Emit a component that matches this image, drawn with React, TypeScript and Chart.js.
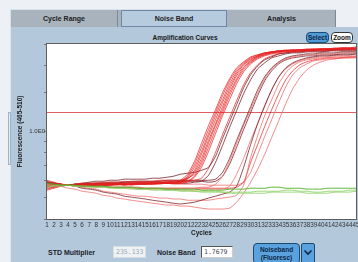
import React, { useEffect, useRef } from 'react';
import { Chart, registerables } from 'chart.js';

Chart.register(...registerables);

const FONT = '"Liberation Sans", Arial, sans-serif';

const cycles = ['1','2','3','4','5','6','7','8','9','10','11','12','13','14','15','16','17','18','19','20','21','22','23','24','25','26','27','28','29','30','31','32','33','34','35','36','37','38','39','40','41','42','43','44','45'];

const noiseBandLevel = 1.225;

// red (positive) samples
const r01 = [.600,.588,.576,.570,.576,.576,.570,.576,.576,.582,.576,.576,.582,.582,.582,.588,.582,.588,.582,.600,.639,.731,.883,1.065,1.258,1.501,1.737,1.948,2.074,2.185,2.231,2.278,2.301,2.325,2.350,2.350,2.350,2.375,2.375,2.375,2.375,2.399,2.399,2.399,2.424];
const r02 = [.547,.558,.570,.570,.570,.576,.576,.570,.576,.576,.582,.576,.576,.582,.582,.582,.588,.588,.588,.594,.626,.709,.847,1.021,1.219,1.455,1.701,1.908,2.052,2.162,2.231,2.278,2.301,2.325,2.325,2.350,2.350,2.350,2.375,2.375,2.375,2.375,2.399,2.399,2.399];
const r03 = [.582,.576,.570,.570,.564,.570,.570,.576,.570,.576,.576,.570,.576,.576,.582,.576,.582,.582,.582,.588,.619,.687,.812,.979,1.181,1.396,1.649,1.868,2.031,2.140,2.208,2.278,2.301,2.325,2.325,2.350,2.350,2.350,2.350,2.375,2.375,2.375,2.375,2.375,2.399];
const r04 = [.564,.570,.570,.570,.576,.576,.576,.582,.576,.576,.576,.582,.576,.582,.582,.582,.582,.588,.588,.588,.613,.666,.787,.949,1.133,1.353,1.598,1.830,2.010,2.117,2.208,2.254,2.301,2.325,2.325,2.325,2.350,2.350,2.350,2.350,2.375,2.375,2.375,2.375,2.375];
const r05 = [.541,.552,.564,.570,.570,.570,.564,.570,.570,.570,.576,.570,.576,.576,.576,.576,.582,.582,.582,.588,.607,.652,.755,.911,1.087,1.298,1.549,1.792,1.968,2.096,2.185,2.254,2.278,2.301,2.325,2.325,2.325,2.350,2.350,2.350,2.350,2.350,2.375,2.375,2.375];
const r06 = [.588,.582,.576,.570,.576,.582,.582,.582,.588,.588,.588,.594,.588,.594,.594,.594,.600,.600,.600,.600,.613,.639,.731,.883,1.065,1.258,1.501,1.737,1.948,2.074,2.185,2.231,2.278,2.301,2.325,2.325,2.350,2.350,2.350,2.375,2.375,2.375,2.399,2.399,2.399];
const r07 = [.570,.570,.570,.570,.570,.570,.576,.576,.570,.576,.576,.576,.576,.582,.576,.582,.582,.582,.582,.582,.594,.626,.709,.847,1.021,1.219,1.455,1.701,1.908,2.052,2.162,2.231,2.278,2.301,2.325,2.325,2.325,2.350,2.350,2.350,2.350,2.375,2.375,2.375,2.375];
const r08 = [.552,.558,.564,.570,.570,.564,.564,.570,.570,.570,.570,.576,.570,.576,.576,.576,.576,.582,.582,.582,.588,.619,.687,.812,.979,1.181,1.396,1.649,1.868,2.031,2.140,2.208,2.254,2.278,2.301,2.301,2.325,2.325,2.325,2.350,2.350,2.350,2.350,2.375,2.375];
const r09 = [.594,.582,.576,.570,.576,.582,.588,.594,.594,.600,.600,.607,.607,.607,.607,.613,.613,.619,.626,.639,.646,.652,.666,.687,.771,.930,1.110,1.325,1.582,1.811,1.989,2.117,2.185,2.254,2.278,2.301,2.301,2.325,2.325,2.325,2.325,2.350,2.350,2.350,2.350];
const r10 = [.576,.576,.570,.570,.570,.576,.576,.576,.582,.582,.582,.582,.588,.588,.588,.588,.594,.594,.594,.594,.594,.600,.613,.680,.804,.969,1.157,1.381,1.632,1.849,2.010,2.140,2.208,2.254,2.278,2.301,2.301,2.325,2.325,2.325,2.325,2.350,2.350,2.350,2.350];
const r11 = [.558,.564,.570,.570,.570,.570,.570,.570,.570,.570,.576,.576,.576,.576,.576,.582,.582,.582,.582,.582,.582,.588,.594,.632,.724,.864,1.043,1.245,1.486,1.719,1.928,2.052,2.162,2.208,2.254,2.278,2.278,2.301,2.301,2.301,2.325,2.325,2.325,2.325,2.325];
const r12 = [.582,.576,.570,.570,.576,.576,.582,.582,.582,.588,.588,.588,.594,.594,.594,.594,.594,.600,.600,.600,.600,.600,.600,.600,.607,.652,.755,.911,1.087,1.298,1.549,1.773,1.948,2.074,2.162,2.208,2.231,2.254,2.254,2.278,2.278,2.278,2.301,2.301,2.301];
const r13 = [.570,.570,.570,.570,.570,.564,.564,.564,.558,.558,.558,.558,.558,.552,.552,.552,.552,.552,.552,.552,.552,.552,.558,.558,.576,.626,.731,.883,1.065,1.258,1.501,1.737,1.928,2.052,2.140,2.185,2.208,2.231,2.231,2.254,2.254,2.254,2.278,2.278,2.278];
const r14 = [.588,.582,.576,.570,.570,.576,.576,.582,.582,.582,.582,.588,.588,.588,.588,.588,.588,.588,.594,.594,.594,.594,.594,.588,.594,.626,.709,.847,1.021,1.219,1.455,1.701,1.888,2.031,2.117,2.162,2.185,2.208,2.208,2.231,2.231,2.231,2.254,2.254,2.254];
const r15 = [.582,.576,.570,.570,.564,.552,.547,.541,.530,.524,.519,.508,.503,.498,.493,.487,.482,.477,.472,.468,.472,.477,.487,.498,.508,.519,.530,.564,.687,.873,1.087,1.311,1.549,1.773,1.948,2.052,2.117,2.162,2.185,2.208,2.208,2.231,2.231,2.231,2.254];
const r16 = [.576,.570,.570,.570,.570,.564,.564,.558,.558,.558,.552,.552,.552,.547,.547,.547,.547,.547,.547,.541,.541,.541,.547,.547,.547,.547,.564,.639,.755,.911,1.087,1.298,1.549,1.773,1.928,2.031,2.096,2.140,2.162,2.185,2.185,2.208,2.208,2.208,2.208];
const r17 = [.570,.570,.570,.570,.564,.558,.552,.547,.535,.530,.524,.519,.513,.508,.508,.503,.498,.498,.493,.493,.487,.487,.487,.487,.493,.498,.503,.513,.570,.763,.959,1.181,1.396,1.649,1.849,1.989,2.074,2.117,2.140,2.162,2.162,2.185,2.185,2.185,2.185];
const r18 = [.564,.564,.570,.570,.570,.570,.564,.564,.564,.558,.558,.558,.558,.558,.552,.552,.552,.552,.552,.552,.552,.552,.552,.552,.552,.552,.552,.558,.588,.724,.873,1.054,1.258,1.486,1.719,1.888,2.010,2.074,2.117,2.140,2.162,2.162,2.162,2.185,2.185];
const r19 = [.588,.582,.576,.570,.570,.576,.576,.576,.576,.576,.576,.582,.582,.582,.582,.582,.582,.582,.576,.576,.576,.576,.576,.570,.570,.570,.570,.570,.588,.652,.787,.949,1.133,1.353,1.598,1.811,1.948,2.031,2.096,2.117,2.140,2.140,2.162,2.162,2.162];
const r20 = [.582,.570,.564,.552,.547,.535,.530,.524,.513,.508,.498,.493,.487,.482,.477,.472,.468,.463,.463,.458,.458,.453,.448,.444,.444,.444,.448,.477,.524,.588,.673,.787,.940,1.121,1.339,1.565,1.755,1.908,2.010,2.074,2.117,2.140,2.162,2.162,2.185];

// green (negative) samples
const g01 = [.582,.576,.570,.570,.570,.564,.564,.564,.564,.558,.558,.558,.558,.552,.552,.552,.552,.547,.547,.547,.547,.547,.541,.541,.541,.541,.547,.547,.547,.552,.552,.552,.558,.558,.552,.552,.552,.547,.547,.547,.552,.552,.552,.552,.552];
const g02 = [.570,.570,.570,.570,.564,.564,.564,.558,.558,.558,.552,.552,.552,.547,.547,.547,.547,.541,.541,.541,.541,.535,.535,.535,.535,.530,.530,.530,.530,.530,.535,.535,.535,.535,.541,.541,.535,.535,.530,.530,.535,.535,.535,.541,.541];
const g03 = [.558,.564,.564,.570,.564,.564,.558,.558,.558,.552,.552,.552,.547,.547,.547,.541,.541,.541,.541,.535,.535,.535,.530,.530,.530,.530,.524,.524,.524,.524,.524,.524,.530,.530,.530,.530,.530,.524,.524,.524,.524,.530,.530,.530,.535];

const RED = 'rgba(232,30,30,0.72)';
const DARK = 'rgba(115,28,34,0.78)';
const PINK = 'rgba(240,105,105,0.78)';
const GREEN = 'rgba(80,178,40,0.95)';
const LGREEN = 'rgba(150,212,110,0.95)';

const greenSeries = [g01, g02, g03];
const greenColors = [GREEN, LGREEN, LGREEN];
const redSeries = [r01, r02, r03, r04, r05, r06, r07, r08, r09, r10, r11, r12, r13, r14, r15, r16, r17, r18, r19, r20];
const redColors = [RED, RED, RED, RED, RED, RED, RED, RED, DARK, RED, DARK, DARK, PINK, DARK, DARK, PINK, PINK, RED, PINK, PINK];

const plotFrame = {
  id: 'plotFrame',
  beforeDatasetsDraw(chart: any) {
    const { ctx, chartArea: a, scales } = chart;
    ctx.save();
    ctx.fillStyle = '#ffffff';
    ctx.fillRect(a.left, a.top, a.right - a.left, a.bottom - a.top);
    const y = Math.round(scales.y.getPixelForValue(noiseBandLevel)) + 0.5;
    ctx.strokeStyle = 'rgba(222,86,86,0.95)';
    ctx.lineWidth = 1;
    ctx.beginPath();
    ctx.moveTo(a.left, y);
    ctx.lineTo(a.right, y);
    ctx.stroke();
    ctx.restore();
  },
  afterDraw(chart: any) {
    const { ctx, chartArea: a } = chart;
    ctx.save();
    ctx.strokeStyle = '#5e5e5e';
    ctx.lineWidth = 1;
    ctx.strokeRect(Math.round(a.left) - 0.5, Math.round(a.top) - 0.5, Math.round(a.right - a.left) + 1, Math.round(a.bottom - a.top) + 1);
    ctx.restore();
  },
};

function AmpChart() {
  const ref = useRef<HTMLCanvasElement>(null);
  useEffect(() => {
    const datasets: any[] = [];
    greenSeries.forEach((s, i) => datasets.push({ data: s, borderColor: greenColors[i], borderWidth: 1, pointRadius: 0, tension: 0.2 }));
    redSeries.forEach((s, i) => datasets.push({ data: s, borderColor: redColors[i], borderWidth: 1, pointRadius: 0, tension: 0.2 }));
    const chart = new Chart(ref.current as HTMLCanvasElement, {
      type: 'line',
      data: { labels: cycles, datasets },
      options: {
        animation: false,
        responsive: false,
        devicePixelRatio: 1,
        events: [],
        layout: { padding: { top: 4, right: 2, left: 0, bottom: 0 } },
        plugins: { legend: { display: false }, tooltip: { enabled: false }, title: { display: false } },
        scales: {
          x: {
            type: 'category',
            offset: false,
            grid: { display: false, drawTicks: false, tickLength: 0 },
            border: { display: false },
            ticks: { autoSkip: false, maxRotation: 0, minRotation: 0, padding: 2, color: '#333', font: { family: FONT, size: 6.3 } },
            title: { display: true, text: 'Cycles', color: '#1a1a1a', padding: { top: 0, bottom: 3 }, font: { family: FONT, size: 6.5, weight: 'bold' } },
            afterFit: (s: any) => { s.height = 21; s.paddingLeft = 0; s.paddingRight = 0; },
          },
          y: {
            type: 'logarithmic',
            min: 0.4,
            max: 2.5,
            grid: { display: true, drawOnChartArea: false, drawTicks: true, tickLength: 3, color: '#777' },
            border: { display: false },
            ticks: {
              padding: -1,
              color: '#333',
              font: { family: FONT, size: 6 },
              callback: (v: any) => (Math.abs(Number(v) - 1) < 1e-9 ? '1.0E0' : ''),
            },
            title: { display: true, text: 'Fluorescence (465-510)', color: '#1a1a1a', padding: { top: 6, bottom: 0 }, font: { family: FONT, size: 6.5, weight: 'bold' } },
            afterFit: (s: any) => { s.width = 37; s.paddingTop = 0; s.paddingBottom = 0; },
          },
        },
      } as any,
      plugins: [plotFrame],
    });
    return () => chart.destroy();
  }, []);
  return <canvas ref={ref} width={348} height={200} style={{ position: 'absolute', left: 10, top: 40, width: 348, height: 200 }} />;
}

const abs = (l: number, t: number, w: number, h: number): React.CSSProperties => ({ position: 'absolute', left: l, top: t, width: w, height: h, boxSizing: 'border-box' });

const centered: React.CSSProperties = { display: 'flex', alignItems: 'center', justifyContent: 'center' };

export default function App() {
  return (
    <div style={{ position: 'fixed', left: 0, top: 0, width: 358, height: 262, overflow: 'hidden', background: '#edf1f5', fontFamily: FONT }}>
      {/* tab bar */}
      <div style={{ ...abs(10, 9, 326, 18), background: '#a9b3be', borderTop: '1px solid #d9e1e8', borderLeft: '1px solid #d9e1e8' }} />
      <div style={{ ...abs(11, 10, 107, 17), ...centered, background: '#a9b3be', borderRight: '1px solid #7d8894', fontSize: 7, fontWeight: 'bold', color: '#222' }}>Cycle Range</div>
      <div style={{ ...abs(121, 10, 106, 17), ...centered, background: '#b7cbde', border: '1px solid #6d88a4', fontSize: 7, fontWeight: 'bold', color: '#222' }}>Noise Band</div>
      <div style={{ ...abs(228, 10, 108, 17), ...centered, background: '#a9b3be', borderRight: '1px solid #7d8894', fontSize: 7, fontWeight: 'bold', color: '#222' }}>Analysis</div>
      {/* panel */}
      <div style={{ ...abs(10, 27, 348, 235), background: '#b4c8dc', borderLeft: '1px solid #dbe5ef' }} />
      <div style={{ ...abs(8, 112, 3, 53), background: '#e4ecf3', border: '1px solid #9fb3c6' }} />
      <div style={{ ...abs(120, 31, 130, 12), ...centered, fontSize: 6.5, fontWeight: 'bold', color: '#1a1a1a' }}>Amplification Curves</div>
      <div style={{ ...abs(306, 32, 23, 11), ...centered, background: '#4f9bd8', border: '1px solid #1d4c78', borderRadius: 4, fontSize: 6.5, fontWeight: 'bold', color: '#0d2540' }}>Select</div>
      <div style={{ ...abs(331, 32, 22, 11), ...centered, background: '#ffffff', border: '1px solid #333', borderRadius: 4, fontSize: 6.5, fontWeight: 'bold', color: '#111' }}>Zoom</div>
      <AmpChart />
      {/* bottom controls */}
      <div style={{ ...abs(48, 246, 60, 12), display: 'flex', alignItems: 'center', fontSize: 7, fontWeight: 'bold', color: '#1c1c2a', whiteSpace: 'nowrap' }}>STD Multiplier</div>
      <div style={{ ...abs(113, 246, 33, 12), display: 'flex', alignItems: 'center', paddingLeft: 2, background: '#eef2f5', border: '1px solid #d6dde3', fontSize: 6.5, fontFamily: '"DejaVu Sans Mono", monospace', color: '#9aa4ad' }}>235.133</div>
      <div style={{ ...abs(157, 246, 42, 12), display: 'flex', alignItems: 'center', fontSize: 7, fontWeight: 'bold', color: '#1c1c2a', whiteSpace: 'nowrap' }}>Noise Band</div>
      <div style={{ ...abs(201, 246, 32, 12), display: 'flex', alignItems: 'center', paddingLeft: 2, background: '#ffffff', borderTop: '1px solid #555', borderLeft: '1px solid #555', borderRight: '1px solid #ccc', borderBottom: '1px solid #ccc', fontSize: 6.5, fontFamily: '"DejaVu Sans Mono", monospace', color: '#445' }}>1.7679</div>
      <div style={{ ...abs(253, 243, 47, 21), ...centered, flexDirection: 'column', background: '#5aa2dd', border: '1px solid #1d4a73', borderRadius: 4, fontSize: 6.5, fontWeight: 'bold', color: '#0d2748', lineHeight: '8px' }}>
        <div>Noiseband</div>
        <div>(Fluoresc)</div>
      </div>
      <div style={{ ...abs(301, 243, 14, 21), background: '#5aa2dd', border: '1px solid #1d4a73', borderRadius: 2 }}>
        <svg width={12} height={19} style={{ position: 'absolute', left: 0, top: 0 }}>
          <polyline points="2.5,6.5 6,10 9.5,6.5" fill="none" stroke="#0d2748" strokeWidth={1.6} />
        </svg>
      </div>
    </div>
  );
}
